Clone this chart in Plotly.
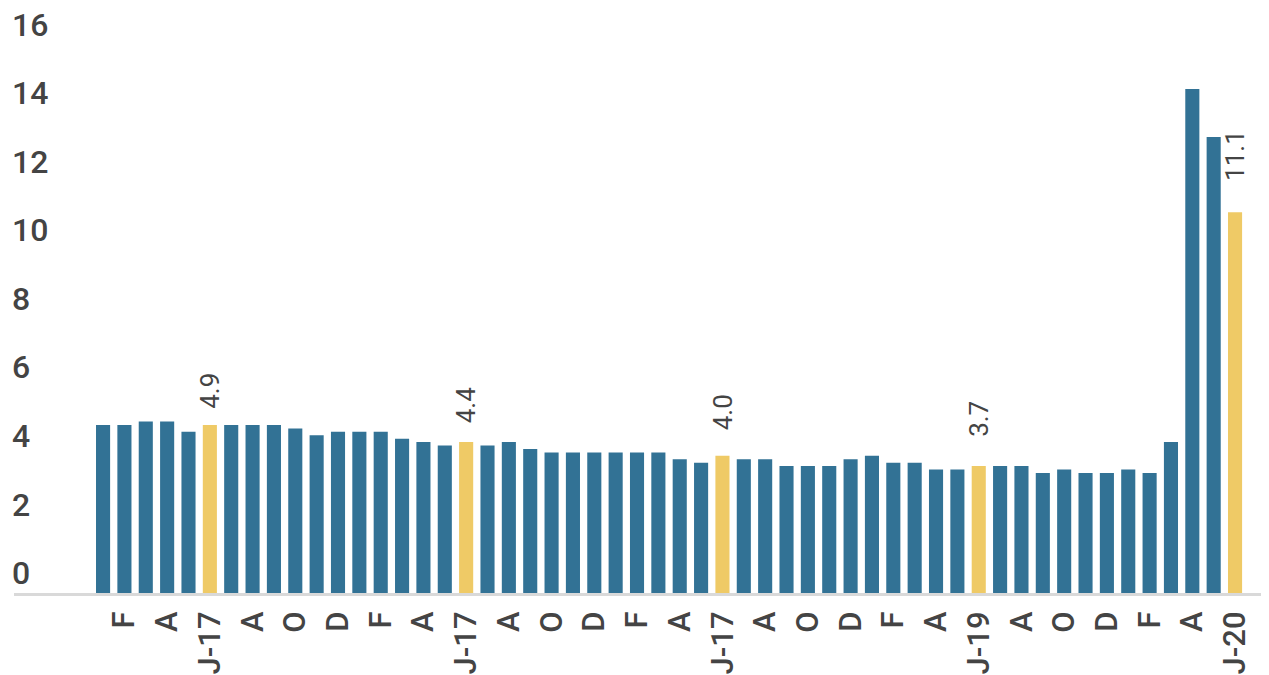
import plotly.graph_objects as go

# Monthly values, Jan 2016 .. Jun 2020 (54 bars)
values = [
    4.9, 4.9, 5.0, 5.0, 4.7, 4.9, 4.9, 4.9, 4.9, 4.8, 4.6, 4.7,
    4.7, 4.7, 4.5, 4.4, 4.3, 4.4, 4.3, 4.4, 4.2, 4.1, 4.1, 4.1,
    4.1, 4.1, 4.1, 3.9, 3.8, 4.0, 3.9, 3.9, 3.7, 3.7, 3.7, 3.9,
    4.0, 3.8, 3.8, 3.6, 3.6, 3.7, 3.7, 3.7, 3.5, 3.6, 3.5, 3.5,
    3.6, 3.5, 4.4, 14.7, 13.3, 11.1,
]
# highlighted (June) bars
highlight_idx = [5, 17, 29, 41, 53]
label_text = ["4.9", "4.4", "4.0", "3.7", "11.1"]

# every other month is labelled
tick_labels = [
    "F", "A", "J-17", "A", "O", "D", "F", "A", "J-17", "A", "O", "D",
    "F", "A", "J-17", "A", "O", "D", "F", "A", "J-19", "A", "O", "D",
    "F", "A", "J-20",
]
y_ticks = [0, 2, 4, 6, 8, 10, 12, 14, 16]

# styling
BLUE = "#327295"
YELLOW = "#EFCA66"
TEXT = "#444444"
label_gap = [14, 17, 24, 27, 29]  # px between bar top and its label
Y_MAX = 17.06

x = list(range(len(values)))
colors = [YELLOW if i in highlight_idx else BLUE for i in x]
tick_vals = list(range(1, len(values), 2))

fig = go.Figure()
fig.add_trace(go.Bar(
    x=x, y=values, marker=dict(color=colors, line=dict(width=0)),
    hoverinfo="x+y", showlegend=False,
))

for i, txt, gap in zip(highlight_idx, label_text, label_gap):
    fig.add_annotation(
        x=i, y=values[i], text=txt, showarrow=False, textangle=-90,
        xanchor="center", yanchor="bottom", yshift=gap,
        font=dict(family="Roboto", size=26, color=TEXT),
    )

fig.update_layout(
    width=1261, height=667,
    margin=dict(l=6, r=0, t=0, b=82),
    paper_bgcolor="white", plot_bgcolor="white",
    bargap=0.34,
    xaxis=dict(
        range=[-4.17, 54.59], tickmode="array", tickvals=tick_vals,
        ticktext=tick_labels, tickangle=-90, showgrid=False, zeroline=False,
        showline=True, linecolor="#d9d9d9", linewidth=3, ticks="",
        automargin=False, ticklabelstandoff=3,
        tickfont=dict(family="Roboto", size=31, color=TEXT, weight=500),
    ),
    yaxis=dict(
        range=[0, Y_MAX], tickmode="array", tickvals=y_ticks,
        showgrid=False, zeroline=False, showline=False, ticks="",
        ticklabelposition="inside", ticklabeloverflow="allow",
        ticklabelshift=-20, ticklabelstandoff=-5, automargin=False,
        tickfont=dict(family="Roboto", size=32, color=TEXT, weight=500),
    ),
)

fig.write_html("out.html")
